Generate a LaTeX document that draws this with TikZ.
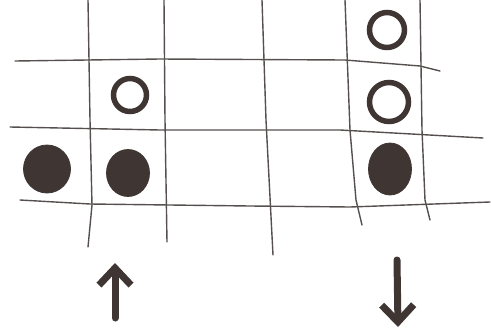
\documentclass[tikz,border=0pt]{standalone}
\usepackage{tikz}
\usetikzlibrary{arrows.meta,shapes.geometric}

\definecolor{pencil}{HTML}{55504E}
\definecolor{marker}{HTML}{3F3634}

\tikzset{
  gridline/.style={draw=pencil, line width=1.4pt, line cap=round, line join=round},
  ring/.style={circle, draw=marker, line width=5.5pt, inner sep=0pt},
  stone/.style={ellipse, draw=marker, fill=marker, line width=0.8pt, inner sep=0pt},
  move/.style={draw=marker, line width=7pt, line cap=round,
    -{Straight Barb[length=17pt, width=32pt, line width=7pt]}}
}

\begin{document}
\begin{tikzpicture}[x=1pt, y=-1pt]
  \useasboundingbox (0,0) rectangle (491,333);
  % hand drawn board, vertical lines
  \draw[gridline] (88,0) -- (90,120) -- (92,205) -- (88,247);
  \draw[gridline] (164,0) -- (165,120) -- (167,242);
  \draw[gridline] (262,0) -- (266,120) -- (273,255);
  \draw[gridline] (345,0) -- (350,130) -- (356,200) -- (362,225);
  \draw[gridline] (420,0) -- (422,130) -- (425,200) -- (430,220);
  % horizontal lines
  \draw[gridline] (15,61) -- (160,59) -- (345,60) -- (420,66) -- (440,71);
  \draw[gridline] (10,127) -- (160,130) -- (340,130) -- (483,138);
  \draw[gridline] (20,200) -- (90,204) -- (250,206) -- (350,207) -- (490,202);
  % open stones
  \node[ring, minimum size=35pt] (wtop) at (387,30) {};
  \node[ring, minimum size=39pt] (wright) at (389,102) {};
  \node[ring, minimum size=33pt] (wleft) at (130,95) {};
  % filled stones
  \node[stone, minimum width=47pt, minimum height=48pt] (bleft) at (47,169) {};
  \node[stone, minimum width=43pt, minimum height=47pt] (bmid) at (128,173) {};
  \node[stone, minimum width=43pt, minimum height=52pt] (bright) at (390,169) {};
  % moves
  \coordinate (upfoot) at (115,318);
  \coordinate (uphead) at (115,263);
  \coordinate (downfoot) at (397,260);
  \coordinate (downhead) at (398,327);
  \draw[move] (upfoot) -- (uphead);
  \draw[move] (downfoot) -- (downhead);
\end{tikzpicture}
\end{document}
